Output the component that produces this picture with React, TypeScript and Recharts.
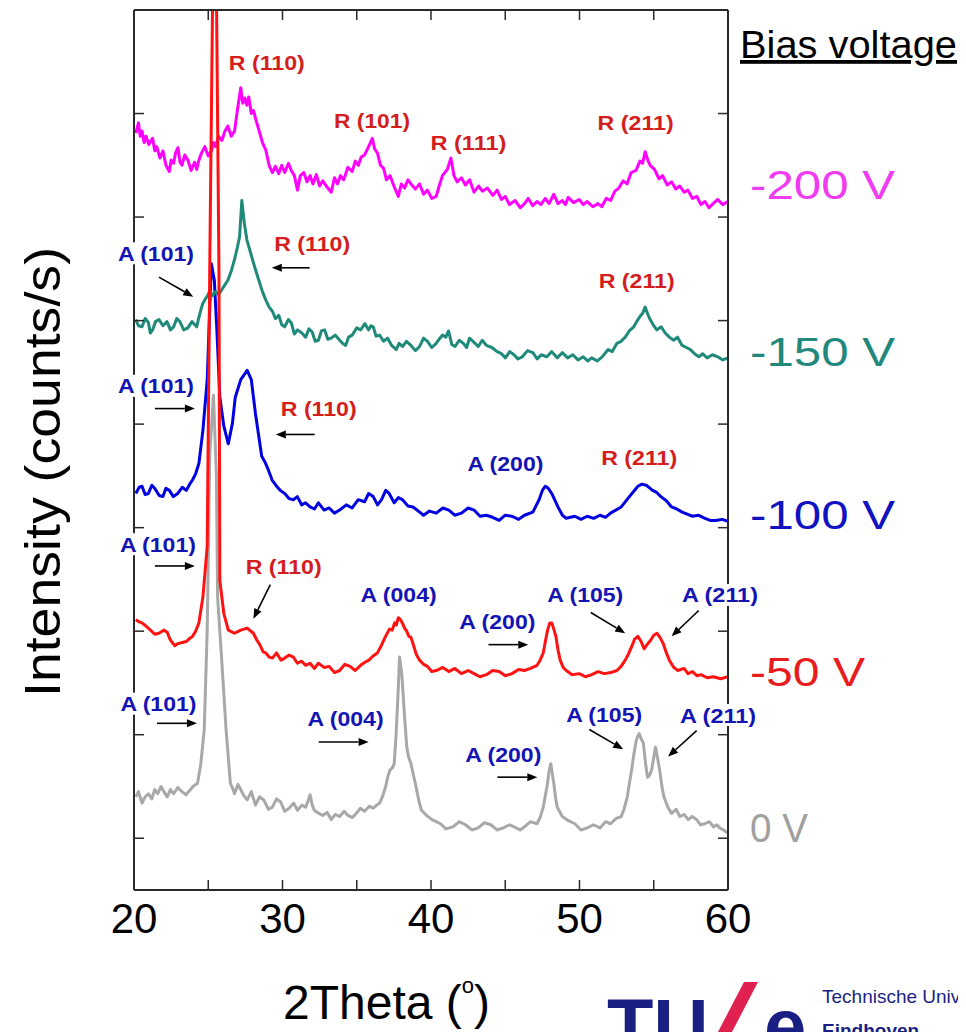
import React from 'react';
import { LineChart, Line, XAxis, YAxis, ReferenceLine, ReferenceDot } from 'recharts';

// ---- data: [2Theta (deg), intensity (arb. units, stacked)] ----
const bias200: number[][] = [
  [20.12,731],[20.3,741],[20.42,728],[20.55,733],[20.68,722],[20.81,728],[21.0,720],[21.25,726],[21.4,714],[21.53,718],[21.75,707],[21.95,714],[22.15,700],[22.38,694],[22.5,705],[22.67,702],[22.8,712],[22.96,717],[23.1,703],[23.23,700],[23.42,710],[23.63,705],[23.85,695],[24.08,703],[24.22,696],[24.37,705],[24.55,712],[24.77,718],[25.0,709],[25.21,714],[25.35,722],[25.49,718],[25.7,728],[25.92,724],[26.12,733],[26.32,738],[26.55,728],[26.77,733],[26.95,752],[27.19,775],[27.32,760],[27.46,765],[27.6,758],[27.73,766],[27.9,750],[28.04,753],[28.25,742],[28.47,731],[28.65,722],[28.87,715],[29.1,700],[29.32,693],[29.52,699],[29.75,692],[29.95,700],[30.15,693],[30.4,702],[30.59,695],[30.8,690],[31.01,676],[31.2,690],[31.43,693],[31.65,684],[31.86,690],[32.05,682],[32.28,691],[32.5,680],[32.71,685],[33.0,679],[33.28,674],[33.5,688],[33.7,682],[33.9,690],[34.12,686],[34.4,698],[34.69,694],[34.9,704],[35.11,700],[35.3,708],[35.53,710],[35.8,718],[36.05,726],[36.2,716],[36.39,712],[36.6,700],[36.81,697],[37.0,686],[37.24,690],[37.5,680],[37.8,670],[38.0,682],[38.22,678],[38.45,686],[38.65,682],[38.95,677],[39.23,682],[39.5,672],[39.76,676],[40.05,668],[40.35,670],[40.55,680],[40.77,690],[41.1,696],[41.34,707],[41.55,690],[41.76,684],[42.05,688],[42.32,681],[42.6,686],[42.9,674],[43.2,680],[43.46,675],[43.8,678],[44.17,671],[44.45,676],[44.74,667],[45.0,670],[45.28,662],[45.65,666],[46.02,659],[46.3,663],[46.55,668],[46.85,661],[47.14,665],[47.4,662],[47.7,668],[47.95,663],[48.27,672],[48.55,663],[48.84,666],[49.05,662],[49.24,669],[49.6,664],[49.98,667],[50.25,662],[50.52,665],[50.9,660],[51.24,663],[51.5,660],[51.8,668],[52.1,666],[52.38,675],[52.65,678],[52.94,685],[53.2,682],[53.48,693],[53.8,695],[54.07,704],[54.25,702],[54.42,713],[54.6,705],[54.76,700],[55.05,696],[55.35,687],[55.6,690],[55.9,681],[56.2,684],[56.48,677],[56.75,680],[57.04,674],[57.3,676],[57.61,668],[57.9,670],[58.18,662],[58.45,665],[58.72,659],[59.0,663],[59.31,667],[59.65,662],[60,665]
];
const bias150: number[][] = [
  [20.12,551],[20.3,545],[20.54,544],[20.75,552],[20.97,548],[21.1,538],[21.25,541],[21.45,549],[21.68,551],[21.95,545],[22.22,549],[22.45,541],[22.67,544],[22.88,552],[23.09,549],[23.35,541],[23.63,543],[23.9,549],[24.22,544],[24.35,552],[24.5,560],[24.62,566],[24.77,570],[24.95,574],[25.11,579],[25.3,574],[25.49,578],[25.7,575],[25.92,580],[26.1,584],[26.32,589],[26.55,598],[26.77,609],[26.95,620],[27.11,631],[27.26,666],[27.42,645],[27.6,628],[27.8,618],[28.04,606],[28.25,596],[28.47,586],[28.65,578],[28.87,570],[29.1,563],[29.32,559],[29.52,552],[29.75,555],[29.95,546],[30.15,544],[30.4,551],[30.59,548],[30.8,537],[31.01,541],[31.3,538],[31.56,534],[31.78,542],[32.0,539],[32.2,530],[32.42,531],[32.62,540],[32.84,541],[33.05,532],[33.28,533],[33.55,536],[33.85,531],[34.05,528],[34.25,526],[34.45,534],[34.69,536],[35.0,543],[35.26,541],[35.55,547],[35.8,541],[35.95,545],[36.11,544],[36.3,535],[36.54,536],[36.8,530],[37.08,533],[37.35,526],[37.66,522],[37.85,528],[38.08,525],[38.35,530],[38.65,526],[38.95,521],[39.23,525],[39.5,533],[39.76,530],[40.05,524],[40.35,528],[40.55,532],[40.77,536],[41.0,534],[41.18,540],[41.4,527],[41.62,525],[41.9,531],[42.18,528],[42.4,524],[42.59,533],[42.9,529],[43.18,525],[43.45,531],[43.73,526],[44.1,524],[44.45,520],[44.75,518],[45.01,514],[45.3,520],[45.59,517],[45.85,513],[46.15,515],[46.5,521],[46.86,519],[47.15,513],[47.43,517],[47.8,515],[48.13,520],[48.5,514],[48.84,519],[49.2,514],[49.55,517],[49.9,512],[50.25,515],[50.55,511],[50.82,514],[51.2,511],[51.53,515],[51.75,519],[51.93,522],[52.2,520],[52.52,528],[52.8,530],[53.08,534],[53.35,540],[53.65,544],[53.85,549],[54.07,554],[54.25,557],[54.42,563],[54.6,556],[54.76,551],[55.0,545],[55.21,541],[55.5,544],[55.77,538],[56.05,534],[56.34,531],[56.6,534],[56.91,526],[57.2,524],[57.47,522],[57.75,518],[58.03,515],[58.3,518],[58.59,514],[58.95,517],[59.31,515],[59.65,512],[60,514]
];
const bias100: number[][] = [
  [20.12,383],[20.35,389],[20.54,390],[20.75,382],[20.97,383],[21.2,391],[21.39,388],[21.7,381],[21.95,380],[22.15,388],[22.38,386],[22.65,380],[22.95,383],[23.25,389],[23.52,386],[23.75,392],[23.94,396],[24.15,402],[24.37,412],[24.64,444],[24.93,493],[25.13,573],[25.21,605],[25.41,589],[25.58,541],[25.78,476],[26.05,448],[26.35,431],[26.63,451],[26.82,476],[27.19,493],[27.62,502],[27.9,493],[28.18,460],[28.6,419],[28.8,414],[29.04,406],[29.3,396],[29.6,390],[29.85,386],[30.15,383],[30.45,378],[30.73,377],[31.0,380],[31.29,372],[31.55,374],[31.86,370],[32.15,368],[32.42,374],[32.8,367],[33.14,369],[33.5,364],[33.85,367],[34.3,372],[34.69,369],[35.1,377],[35.53,375],[35.8,383],[36.11,380],[36.4,372],[36.67,377],[36.95,386],[37.18,383],[37.52,374],[37.8,379],[38.08,377],[38.45,371],[38.79,370],[39.15,366],[39.5,362],[39.9,366],[40.35,364],[40.8,369],[41.2,367],[41.6,362],[42.05,364],[42.5,369],[42.9,367],[43.3,361],[43.73,362],[44.15,360],[44.59,357],[45.0,362],[45.45,361],[45.9,358],[46.29,362],[46.86,365],[47.28,377],[47.5,386],[47.7,390],[47.9,388],[48.13,383],[48.55,370],[48.85,362],[49.11,359],[49.69,361],[50.1,358],[50.52,361],[50.95,359],[51.38,362],[51.75,360],[52.09,364],[52.81,370],[53.36,380],[53.93,390],[54.2,392],[54.49,391],[54.92,386],[55.2,384],[55.48,380],[55.85,376],[56.2,370],[56.55,368],[56.91,365],[57.25,363],[57.61,361],[58.0,362],[58.45,359],[58.8,357],[59.17,357],[59.6,358],[60,356]
];
const bias50: number[][] = [
  [20.12,261],[20.35,259],[20.54,258],[20.8,255],[21.11,251],[21.4,247],[21.68,248],[22.0,251],[22.24,249],[22.4,243],[22.52,240],[22.75,236],[22.95,238],[23.25,239],[23.52,240],[23.75,243],[23.94,245],[24.15,250],[24.37,258],[24.64,283],[24.93,332],[25.1,600],[25.3,870],[25.42,950],[25.55,870],[25.72,600],[25.78,299],[26.05,267],[26.35,251],[26.77,248],[27.19,251],[27.62,253],[28.04,248],[28.25,242],[28.47,237],[28.7,230],[28.87,229],[29.1,225],[29.32,224],[29.6,229],[29.9,222],[30.15,224],[30.45,227],[30.73,225],[31.0,219],[31.29,221],[31.55,217],[31.86,219],[32.15,214],[32.42,219],[32.8,215],[33.14,216],[33.5,210],[33.85,212],[34.2,218],[34.55,216],[34.9,212],[35.26,217],[35.55,220],[35.82,222],[36.1,226],[36.39,229],[36.65,236],[36.94,245],[37.2,252],[37.38,251],[37.55,258],[37.66,256],[37.8,263],[37.95,261],[38.1,257],[38.22,253],[38.36,250],[38.51,245],[38.65,244],[38.79,238],[39.0,228],[39.23,222],[39.5,218],[39.76,216],[40.05,211],[40.35,212],[40.8,215],[41.2,211],[41.6,214],[42.05,209],[42.5,212],[42.9,209],[43.3,206],[43.73,208],[44.15,212],[44.59,211],[45.0,207],[45.45,209],[45.9,213],[46.29,212],[46.7,214],[47.14,217],[47.35,222],[47.56,229],[47.7,240],[47.85,251],[48.0,258],[48.13,258],[48.27,252],[48.41,245],[48.55,232],[48.7,222],[48.9,215],[49.11,212],[49.5,208],[49.98,209],[50.4,206],[50.82,208],[51.25,211],[51.66,209],[52.1,210],[52.52,212],[52.8,216],[53.08,222],[53.3,228],[53.51,235],[53.7,242],[53.93,245],[54.15,240],[54.35,233],[54.55,237],[54.78,241],[55.0,246],[55.21,248],[55.42,244],[55.64,238],[55.85,229],[56.05,222],[56.35,215],[56.62,212],[57.04,214],[57.3,209],[57.61,211],[57.9,207],[58.18,208],[58.6,205],[59.02,206],[59.5,204],[60,206]
];
const bias0: number[][] = [
  [20.12,90],[20.3,95],[20.54,84],[20.75,90],[20.97,93],[21.2,88],[21.39,97],[21.6,93],[21.82,100],[22.05,94],[22.24,90],[22.45,97],[22.67,93],[22.95,99],[23.23,95],[23.5,92],[23.8,97],[24.05,101],[24.28,103],[24.5,122],[24.73,155],[24.93,251],[25.1,420],[25.35,478],[25.55,400],[25.63,283],[25.92,219],[26.2,155],[26.49,103],[26.65,98],[26.77,93],[27.0,102],[27.19,97],[27.4,91],[27.62,87],[27.9,95],[28.18,82],[28.45,90],[28.74,87],[29.05,78],[29.32,80],[29.6,88],[29.88,85],[30.15,76],[30.45,79],[30.75,84],[31.01,77],[31.3,82],[31.56,80],[31.72,86],[31.86,92],[32.0,82],[32.14,77],[32.45,74],[32.71,72],[33.0,75],[33.28,68],[33.55,73],[33.85,71],[34.15,76],[34.41,72],[34.7,70],[34.97,74],[35.25,79],[35.53,76],[35.85,81],[36.11,79],[36.35,82],[36.54,84],[36.75,91],[36.95,100],[37.1,110],[37.24,116],[37.4,118],[37.52,122],[37.65,150],[37.8,196],[37.88,225],[38.03,209],[38.12,190],[38.22,167],[38.37,138],[38.5,128],[38.65,122],[38.8,112],[38.99,100],[39.2,85],[39.36,77],[39.7,72],[40.07,68],[40.35,66],[40.64,64],[41.0,59],[41.48,61],[41.9,66],[42.32,63],[42.75,58],[43.18,60],[43.6,65],[44.03,63],[44.45,58],[44.87,60],[45.3,63],[45.73,60],[46.0,58],[46.29,61],[46.7,66],[47.14,64],[47.35,70],[47.56,80],[47.72,93],[47.85,103],[47.95,115],[48.07,122],[48.17,112],[48.27,103],[48.38,90],[48.5,80],[48.65,76],[48.84,71],[49.25,67],[49.69,64],[50.1,58],[50.52,60],[50.95,63],[51.38,60],[51.75,66],[52.09,64],[52.45,69],[52.81,71],[53.0,78],[53.22,90],[53.36,103],[53.51,116],[53.65,130],[53.79,142],[53.9,148],[54.02,151],[54.15,146],[54.3,142],[54.45,122],[54.58,109],[54.72,111],[54.86,116],[55.0,128],[55.12,138],[55.25,128],[55.4,116],[55.55,100],[55.68,90],[55.95,80],[56.2,74],[56.5,78],[56.76,71],[57.05,73],[57.32,68],[57.6,71],[57.89,68],[58.15,63],[58.45,64],[58.75,66],[59.02,61],[59.25,63],[59.44,60],[59.7,58],[60,55]
];

const seriesNames = ['-200 V', '-150 V', '-100 V', '-50 V', '0 V'];
const seriesColors = ['#ff00ff', '#1f8a7a', '#0000e0', '#ff1212', '#a8a8a8'];
const labelColors = ['#f03cf0', '#23887c', '#1212c0', '#e81c1c', '#a0a0a0'];
const seriesData = [bias200, bias150, bias100, bias50, bias0];
const drawOrder = [4, 2, 1, 0, 3];

const xTicks = [20, 25, 30, 35, 40, 45, 50, 55, 60];
const yTicks = [50, 150, 250, 350, 450, 550, 650, 750];

// peak labels: [2Theta, intensity, text, phase]
const peakLabels: [number, number, string, string][] = [
  [28.94, 799, 'R (110)', 'R'], [36.03, 743, 'R (101)', 'R'], [42.52, 722, 'R (111)', 'R'], [53.78, 741, 'R (211)', 'R'],
  [21.48, 615, 'A (101)', 'A'], [32.0, 624, 'R (110)', 'R'], [53.85, 589, 'R (211)', 'R'],
  [21.48, 487, 'A (101)', 'A'], [32.44, 465, 'R (110)', 'R'], [45.01, 412, 'A (200)', 'A'], [54.02, 418, 'R (211)', 'R'],
  [21.61, 334, 'A (101)', 'A'], [30.08, 312, 'R (110)', 'R'], [37.82, 285, 'A (004)', 'A'], [44.47, 259, 'A (200)', 'A'], [50.39, 285, 'A (105)', 'A'], [59.46, 285, 'A (211)', 'A'],
  [21.65, 180, 'A (101)', 'A'], [34.25, 166, 'A (004)', 'A'], [44.87, 131, 'A (200)', 'A'], [51.66, 170, 'A (105)', 'A'], [59.33, 169, 'A (211)', 'A'],
];
// arrows: [x1, y1, x2, y2] (tip at x2,y2)
const arrows: [number, number, number, number][] = [
  [21.68, 592, 23.99, 573], [31.83, 601, 29.28, 601],
  [21.41, 465, 24.1, 465], [32.17, 440, 29.55, 440],
  [21.41, 313, 24.1, 313], [29.18, 295, 28.04, 262], [43.87, 237, 46.55, 237], [50.76, 268, 53.08, 248], [58.03, 270, 56.2, 245],
  [21.55, 161, 24.24, 161], [32.44, 143, 35.8, 143], [44.47, 109, 47.16, 109], [50.66, 155, 52.94, 136], [57.89, 154, 55.97, 129],
];

const FONT = 'Arial, "Liberation Sans", Helvetica, sans-serif';
const phaseColor: Record<string, string> = { R: '#d41e1e', A: '#1414b4' };
const AXIS = '#2a2a2a';

const ArrowShape = (p: any) => {
  const { x1, y1, x2, y2 } = p;
  const dx = x2 - x1, dy = y2 - y1;
  const len = Math.hypot(dx, dy) || 1;
  const ux = dx / len, uy = dy / len;
  const hl = 10, hw = 4;
  const bx = x2 - ux * hl, by = y2 - uy * hl;
  return (
    <g>
      <line x1={x1} y1={y1} x2={bx} y2={by} stroke="#000" strokeWidth={1.6} />
      <polygon points={`${x2},${y2} ${bx - uy * hw},${by + ux * hw} ${bx + uy * hw},${by - ux * hw}`} fill="#000" />
    </g>
  );
};

const makeLabel = (text: string, color: string) => (p: any) => (
  <g>
    <rect x={p.cx - 40} y={p.cy - 11} width={80} height={22} fill="#fff" />
    <text x={p.cx} y={p.cy} textAnchor="middle" dominantBaseline="central" fontSize={21} fontWeight="bold"
      fill={color} fontFamily={FONT} textLength={76} lengthAdjust="spacingAndGlyphs">{text}</text>
  </g>
);

const W = 958, H = 1024;
const legendBaselines = [191, 358, 521, 678, 834];
const legendLengths = [145, 145, 145, 115, 58];

export default function App() {
  return (
    <div style={{ position: 'relative', width: W, height: H, overflow: 'hidden' }}>
      <LineChart width={W} height={H} margin={{ top: 1, right: 237, bottom: 141, left: 125 }}>
        <XAxis xAxisId="b" type="number" dataKey="x" domain={[20, 60]} ticks={xTicks} interval={0}
          height={1} tickSize={-10} tickMargin={23} axisLine={{ stroke: AXIS, strokeWidth: 2 }}
          tickLine={{ stroke: AXIS, strokeWidth: 1.5 }}
          tickFormatter={(v: number) => (v % 10 === 0 ? String(v) : '')}
          tick={{ fontSize: 42, fill: '#000', fontFamily: FONT }} allowDataOverflow />
        <XAxis xAxisId="t" orientation="top" type="number" dataKey="x" domain={[20, 60]} ticks={xTicks} interval={0}
          height={1} tickSize={-10} axisLine={{ stroke: AXIS, strokeWidth: 2 }}
          tickLine={{ stroke: AXIS, strokeWidth: 1.5 }} tickFormatter={() => ''} allowDataOverflow />
        <YAxis yAxisId="l" type="number" domain={[0, 850]} ticks={yTicks} interval={0} width={1} tickSize={-10}
          axisLine={{ stroke: AXIS, strokeWidth: 2 }} tickLine={{ stroke: AXIS, strokeWidth: 1.5 }}
          tickFormatter={() => ''} allowDataOverflow />
        <YAxis yAxisId="r" orientation="right" type="number" domain={[0, 850]} ticks={yTicks} interval={0} width={1}
          tickSize={-10} axisLine={{ stroke: AXIS, strokeWidth: 2 }} tickLine={{ stroke: AXIS, strokeWidth: 1.5 }}
          tickFormatter={() => ''} allowDataOverflow />
        {drawOrder.map((i) => (
          <Line key={seriesNames[i]} xAxisId="b" yAxisId="l" data={seriesData[i].map(([x, y]) => ({ x, y }))}
            dataKey="y" name={seriesNames[i]} type="linear" stroke={seriesColors[i]} strokeWidth={3}
            strokeLinejoin="round" dot={false} activeDot={false} isAnimationActive={false} />
        ))}
        {arrows.map((a, i) => (
          <ReferenceLine key={'a' + i} xAxisId="b" yAxisId="l" ifOverflow="visible"
            segment={[{ x: a[0], y: a[1] }, { x: a[2], y: a[3] }]} shape={ArrowShape} />
        ))}
        {peakLabels.map((l, i) => (
          <ReferenceDot key={'l' + i} xAxisId="b" yAxisId="l" x={l[0]} y={l[1]} r={0} ifOverflow="visible"
            shape={makeLabel(l[2], phaseColor[l[3]])} />
        ))}
      </LineChart>
      <svg width={W} height={H} style={{ position: 'absolute', left: 0, top: 0, pointerEvents: 'none' }}>
        <text x={52} y={464} transform="rotate(-90 52 464)" textAnchor="middle" fontSize={50} fontFamily={FONT}
          fill="#000" textLength={450} lengthAdjust="spacingAndGlyphs">Intensity (counts/s)</text>
        <text x={275} y={1011} fontSize={48} fontFamily={FONT} fill="#000">
          2Theta (<tspan fontSize={22} dy={-26}>o</tspan><tspan dy={26}>)</tspan>
        </text>
        <text x={732} y={50} fontSize={38} fontFamily={FONT} fill="#000" textDecoration="underline"
          textLength={217} lengthAdjust="spacingAndGlyphs">Bias voltage</text>
        {seriesNames.map((n, i) => (
          <text key={n} x={742} y={legendBaselines[i]} fontSize={40} fontFamily={FONT} fill={labelColors[i]}
            textLength={legendLengths[i]} lengthAdjust="spacingAndGlyphs">{n}</text>
        ))}
        <g>
          <text x={599} y={1044} fontSize={76} fontWeight="bold" fontFamily={FONT} fill="#1a1f84">TU</text>
          <polygon points="736,974 750,974 724,1024 710,1024" fill="#e0204e" />
          <text x={756} y={1044} fontSize={76} fontWeight="bold" fontFamily={FONT} fill="#1a1f84">e</text>
          <text x={814} y={995} fontSize={19} fontFamily={FONT} fill="#1a1f84">Technische Universiteit</text>
          <text x={814} y={1029} fontSize={19} fontWeight="bold" fontFamily={FONT} fill="#1a1f84">Eindhoven</text>
        </g>
      </svg>
    </div>
  );
}
